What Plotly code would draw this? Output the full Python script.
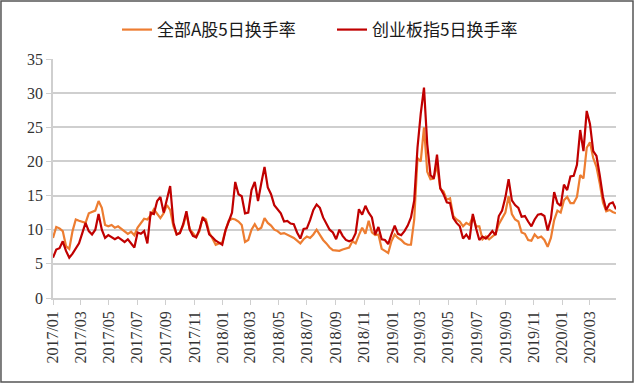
import pandas as pd
import plotly.graph_objects as go

# weekly observations starting 2017-01-01
start_date = "2017-01-01"
n_weeks = 174

all_a = [8.8, 10.4, 10.2, 9.8, 7.6, 7.2, 9.8, 11.5, 11.3, 11.2,
         11.0, 12.4, 12.6, 12.8, 14.2, 13.2, 10.7, 10.5, 10.7, 10.3,
         10.5, 10.1, 9.8, 9.4, 9.7, 9.2, 10.3, 11.0, 11.6, 11.5,
         12.1, 13.0, 12.3, 11.7, 12.4, 13.6, 12.9, 10.5, 9.3, 9.6,
         10.6, 12.3, 10.1, 9.5, 8.9, 9.8, 11.8, 11.5, 9.6, 8.7,
         7.8, 8.0, 8.1, 9.9, 11.3, 11.6, 11.5, 11.2, 10.7, 8.2,
         8.5, 10.0, 10.8, 10.0, 10.3, 11.7, 11.0, 10.6, 10.0, 9.8,
         9.4, 9.5, 9.3, 9.0, 8.8, 8.4, 8.0, 8.6, 9.0, 8.8,
         9.3, 10.0, 9.2, 8.5, 8.0, 7.4, 7.0, 6.9, 6.9, 7.1,
         7.3, 7.4, 8.3, 8.0, 9.2, 10.3, 9.4, 11.3, 9.6, 9.2,
         9.3, 7.2, 6.9, 6.6, 8.3, 9.3, 8.8, 8.5, 8.0, 7.8,
         7.8, 11.5, 20.5, 20.0, 25.0, 18.5, 17.4, 17.5, 19.5, 16.0,
         15.6, 14.4, 14.6, 12.0, 11.5, 11.2, 10.5, 11.0, 10.7, 12.0,
         10.5, 10.5, 8.6, 9.0, 8.6, 9.0, 9.4, 10.8, 11.6, 12.5,
         14.9, 12.3, 11.5, 11.2, 9.6, 9.4, 8.5, 8.4, 9.3, 8.8,
         9.0, 8.5, 7.5, 8.8, 11.4, 12.8, 12.5, 14.3, 14.8, 13.9,
         13.9, 14.8, 18.0, 17.5, 22.0, 22.8, 20.5, 19.2, 16.8, 14.0,
         12.7, 12.9, 12.6, 12.4]

gem = [5.9, 7.1, 7.3, 8.3, 6.9, 5.9, 6.5, 7.2, 8.0, 9.5,
       11.0, 9.8, 9.3, 10.0, 12.3, 10.0, 8.8, 9.2, 8.9, 8.6,
       8.9, 8.5, 8.2, 8.6, 8.0, 7.4, 9.6, 9.4, 9.8, 8.0,
       12.5, 12.3, 14.2, 14.8, 12.5, 14.6, 16.4, 11.0, 9.3, 9.5,
       10.8, 12.7, 10.0, 9.1, 8.9, 10.0, 11.8, 11.1, 9.3, 8.9,
       8.4, 8.1, 7.8, 9.9, 11.3, 12.5, 17.0, 15.2, 14.9, 12.4,
       12.5, 15.8, 17.0, 14.2, 16.8, 19.2, 16.2, 15.2, 13.6, 13.0,
       12.4, 11.2, 11.3, 10.9, 10.8, 9.6, 8.7, 10.1, 10.2, 11.4,
       12.9, 13.7, 13.2, 11.8, 10.8, 10.0, 9.6, 8.6, 10.0, 9.1,
       8.5, 8.3, 8.5, 9.5, 13.0, 12.2, 13.5, 12.5, 11.8, 9.3,
       10.4, 8.6, 8.5, 7.9, 9.3, 10.6, 9.4, 9.2, 9.8, 10.6,
       11.8, 14.3, 22.0, 27.0, 30.8, 22.5, 18.0, 17.5, 21.0, 16.1,
       15.2, 14.0, 13.9, 11.7, 11.0, 10.5, 8.7, 9.3, 8.6, 12.3,
       10.2, 8.5, 9.0, 8.7, 9.2, 9.8, 9.2, 12.0, 12.8, 14.7,
       17.4, 14.3, 13.6, 13.2, 11.9, 12.0, 11.2, 10.5, 11.5, 12.2,
       12.3, 12.0, 9.9, 11.6, 15.5, 13.9, 13.5, 16.6, 15.8, 17.8,
       17.9, 19.5, 24.6, 21.5, 27.4, 25.5, 21.5, 20.8, 18.0, 14.8,
       12.9, 13.8, 14.0, 13.0]

series_names = ["全部A股5日换手率", "创业板指5日换手率"]
series_colors = ["#ED7D31", "#C00000"]

tick_dates = ["2017-01-01", "2017-03-01", "2017-05-01", "2017-07-01", "2017-09-01",
              "2017-11-01", "2018-01-01", "2018-03-01", "2018-05-01", "2018-07-01",
              "2018-09-01", "2018-11-01", "2019-01-01", "2019-03-01", "2019-05-01",
              "2019-07-01", "2019-09-01", "2019-11-01", "2020-01-01", "2020-03-01"]
tick_labels = ["2017/01", "2017/03", "2017/05", "2017/07", "2017/09", "2017/11",
               "2018/01", "2018/03", "2018/05", "2018/07", "2018/09", "2018/11",
               "2019/01", "2019/03", "2019/05", "2019/07", "2019/09", "2019/11",
               "2020/01", "2020/03"]

dates = pd.date_range(start_date, periods=n_weeks, freq="7D")

fig = go.Figure()
for name, vals, col in zip(series_names, [all_a, gem], series_colors):
    fig.add_trace(go.Scatter(x=dates, y=vals, mode="lines", name=name,
                             line=dict(color=col, width=2.2)))

grid_col = "#CFCFCF"
fig.update_layout(
    width=640, height=385,
    margin=dict(l=53, r=24, t=59, b=87, autoexpand=False),
    paper_bgcolor="white", plot_bgcolor="white",
    showlegend=True,
    legend=dict(orientation="h", xref="container", yref="container",
                x=117 / 640, xanchor="left", y=0.922, yanchor="middle",
                font=dict(family="Noto Sans CJK SC", size=17, color="#1a1a1a"),
                entrywidth=170, entrywidthmode="pixels", tracegroupgap=0),
    xaxis=dict(type="date", range=[dates[0], dates[-1]], automargin=False,
               tickmode="array", tickvals=tick_dates, ticktext=tick_labels,
               tickangle=-90, ticks="outside", ticklen=5, tickcolor=grid_col,
               showline=True, linecolor=grid_col, linewidth=1.5,
               showgrid=False, zeroline=False,
               tickfont=dict(family="Liberation Serif", size=16, color="#333")),
    yaxis=dict(range=[0, 35], dtick=5, tick0=0, automargin=False,
               ticks="outside", ticklen=5, tickcolor=grid_col,
               showline=True, linecolor=grid_col, linewidth=1.5,
               showgrid=True, gridcolor=grid_col, gridwidth=1.5,
               zeroline=False,
               tickfont=dict(family="Liberation Serif", size=16, color="#333")),
    shapes=[dict(type="rect", xref="paper", yref="paper",
                 x0=-0.0924, x1=1.0302, y0=-0.3515, y1=1.2427,
                 line=dict(color="#555555", width=1.5), fillcolor="rgba(0,0,0,0)",
                 layer="below")],
)

fig.write_html("out.html", config={"displayModeBar": False},
               post_script="document.body.style.margin='0';document.body.style.overflow='hidden';")
